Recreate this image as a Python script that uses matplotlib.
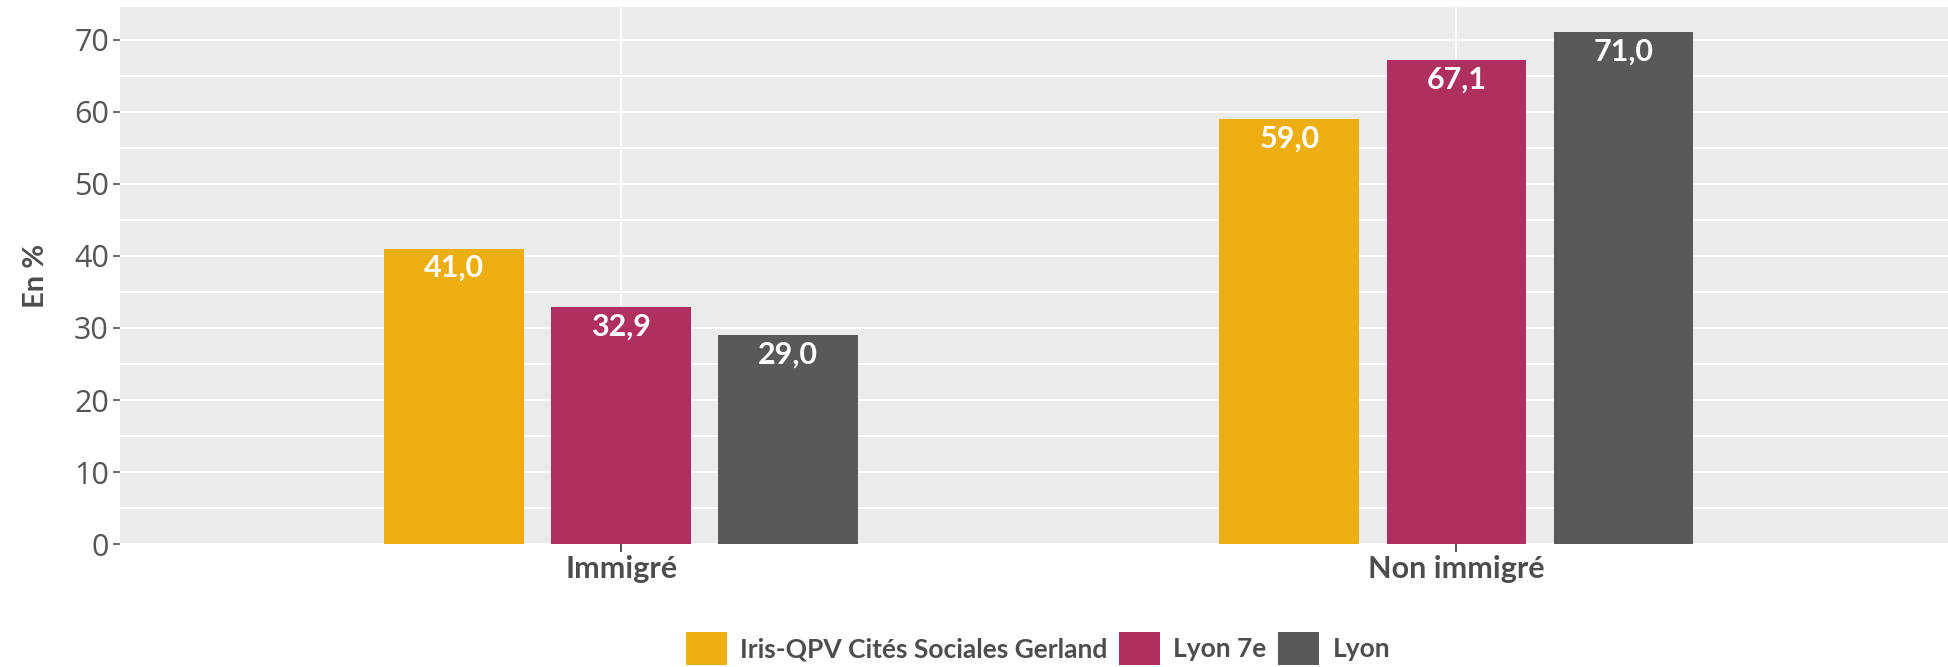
import numpy as np
import matplotlib
matplotlib.use("Agg")
import matplotlib.pyplot as plt
from matplotlib.ticker import MultipleLocator
from matplotlib.patches import Patch

# Statut migratoire des habitants, en %
categories = ["Immigré", "Non immigré"]
zones = ["Iris-QPV Cités Sociales Gerland", "Lyon 7e", "Lyon"]
qpv_gerland = [41.0, 59.0]
lyon_7e = [32.9, 67.1]
lyon = [29.0, 71.0]
y_ticks = [0, 10, 20, 30, 40, 50, 60, 70]

colors = ["#EDAE11", "#AF2F5E", "#595959"]
series = [qpv_gerland, lyon_7e, lyon]

W, H = 1949, 667
fig = plt.figure(figsize=(W / 100, H / 100), dpi=100)
ax = fig.add_axes([120 / W, 1 - 544.3 / H, 1 - 120 / W, (544.3 - 6.7) / H])
ax.set_facecolor("#EBEBEB")
for s in ax.spines.values():
    s.set_visible(False)

x = np.arange(len(categories))
offsets = [-0.2, 0.0, 0.2]
for vals, off, col in zip(series, offsets, colors):
    bars = ax.bar(x + off, vals, width=0.167, color=col, zorder=3)
    for b, v in zip(bars, vals):
        ax.annotate(f"{v:.1f}".replace(".", ","),
                    (b.get_x() + b.get_width() / 2, v),
                    xytext=(0, -14), textcoords="offset points",
                    ha="center", va="center", color="white",
                    fontsize=22, fontweight="bold", family="Lato", zorder=4)

ax.set_xlim(-0.6, 1.59)
ax.set_ylim(0, 74.55)
ax.set_xticks(x)
ax.set_xticklabels(categories, fontsize=22, fontweight="bold",
                   family="Lato", color="#4D4D4D")
ax.set_yticks(y_ticks)
ax.set_yticklabels([str(t) for t in y_ticks], fontsize=22,
                   family="Open Sans", color="#555555")
ax.yaxis.set_minor_locator(MultipleLocator(5))
ax.tick_params(axis="y", which="major", length=5, width=1.2,
               color="#555555", pad=3)
ax.tick_params(axis="y", which="minor", length=0)
ax.tick_params(axis="x", length=6, width=1.2, color="#333333", pad=2)

ax.set_axisbelow(True)
ax.grid(axis="y", which="both", color="white", linewidth=1.3)
ax.grid(axis="x", which="major", color="white", linewidth=1.3)

ax.set_ylabel("En %", fontsize=21, fontweight="bold", family="Lato",
              color="#4D4D4D")
ax.yaxis.set_label_coords(-0.039, 0.5)

handles = [Patch(facecolor=c, edgecolor="none") for c in colors]
fig.legend(handles, zones, loc="center", ncol=3,
           bbox_to_anchor=(1038 / W, 1 - 648.5 / H),
           frameon=False, prop={"family": "Lato", "weight": "bold", "size": 19},
           labelcolor="#4D4D4D", handlelength=1.55, handleheight=1.55,
           handletextpad=0.5, columnspacing=0.45, borderpad=0)

fig.savefig("out.png", dpi=100)
